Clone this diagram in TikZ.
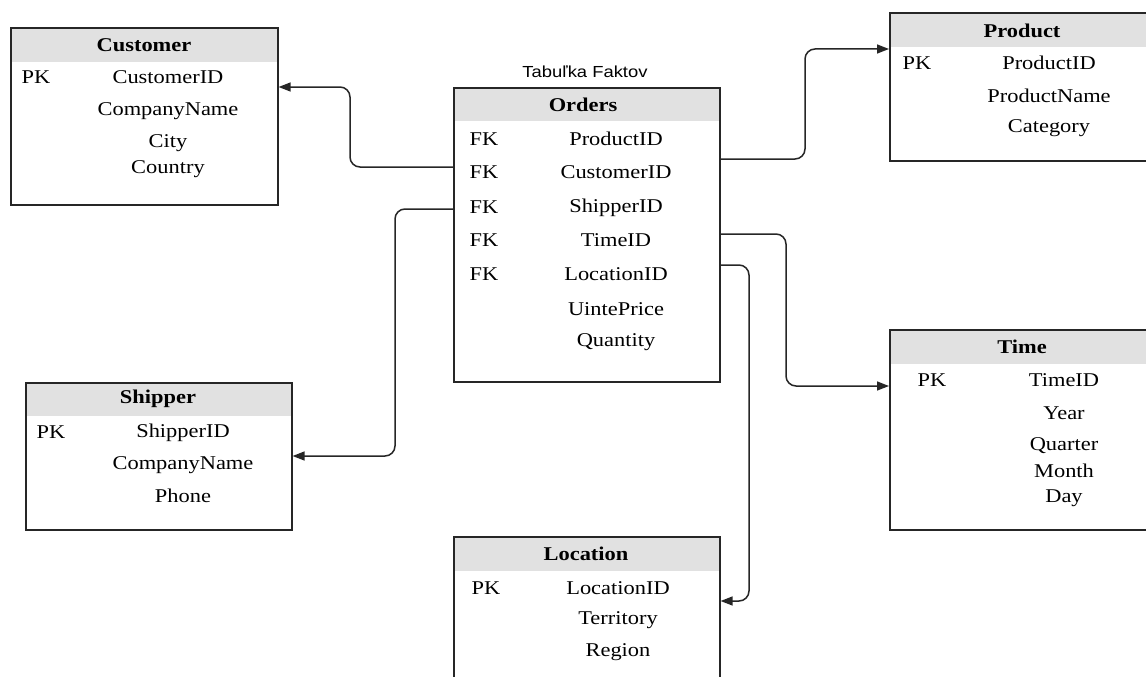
\documentclass[tikz,border=0pt]{standalone}
\usepackage{fontspec}
\setmainfont[FakeStretch=1.15]{Liberation Serif}
\newfontfamily\captionfont[FakeStretch=1.15]{Liberation Sans}
\usetikzlibrary{arrows.meta}

\definecolor{hdrfill}{HTML}{E1E1E1}
\definecolor{rule}{HTML}{262626}

\tikzset{
  table/.style={draw=rule, line width=1.6pt, anchor=north west, inner sep=0pt,
    path picture={\fill[hdrfill] (path picture bounding box.north west)
      rectangle ([yshift=-#1]path picture bounding box.north east);}},
  table/.default=33pt,
  title/.style={font=\fontsize{19.5}{22}\selectfont\bfseries, inner sep=0pt, anchor=center},
  field/.style={font=\fontsize{19.5}{22}\selectfont, inner sep=0pt, anchor=center},
  link/.style={draw=rule, line width=1.5pt, rounded corners=10pt,
    -{Triangle[length=12pt,width=9pt]}}
}

\begin{document}
\begin{tikzpicture}[x=1pt,y=-1pt]
\useasboundingbox (0,0) rectangle (1146,677);

% ---- Customer ----
\node[table=34pt, minimum width=267pt, minimum height=177pt] (customer) at (10,27) {};
\node[title] (customer-t) at (144,45) {Customer};
\node[field] (customer-pk) at (36,77) {PK};
\node[field] (customer-id) at (168,77) {CustomerID};
\node[field] (customer-name) at (168,111) {CompanyName};
\node[field] (customer-city) at (168,143) {City};
\node[field] (customer-country) at (168,169) {Country};

% ---- Orders (fact table) ----
\node[font=\captionfont\fontsize{16}{19}\selectfont, inner sep=0pt] (orders-cap) at (585,72) {Tabuľka Faktov};
\node[table=33pt, minimum width=266pt, minimum height=294pt] (orders) at (453,87) {};
\node[title] (orders-t) at (583,105) {Orders};
\node[field] (orders-fk1) at (484,139) {FK};
\node[field] (orders-fk2) at (484,172) {FK};
\node[field] (orders-fk3) at (484,207) {FK};
\node[field] (orders-fk4) at (484,240) {FK};
\node[field] (orders-fk5) at (484,274) {FK};
\node[field] (orders-prod) at (616,139) {ProductID};
\node[field] (orders-cust) at (616,172) {CustomerID};
\node[field] (orders-ship) at (616,208) {ShipperID};
\node[field] (orders-time) at (616,240) {TimeID};
\node[field] (orders-loc) at (616,274) {LocationID};
\node[field] (orders-price) at (616,309) {UintePrice};
\node[field] (orders-qty) at (616,342) {Quantity};

% ---- Product ----
\node[table=34pt, minimum width=270pt, minimum height=148pt] (product) at (889,12) {};
\node[title] (product-t) at (1022,31) {Product};
\node[field] (product-pk) at (917,63) {PK};
\node[field] (product-id) at (1049,63) {ProductID};
\node[field] (product-name) at (1049,96) {ProductName};
\node[field] (product-cat) at (1049,128) {Category};

% ---- Time ----
\node[table=34pt, minimum width=270pt, minimum height=200pt] (time) at (889,329) {};
\node[title] (time-t) at (1022,347) {Time};
\node[field] (time-pk) at (932,380) {PK};
\node[field] (time-id) at (1064,380) {TimeID};
\node[field] (time-year) at (1064,413) {Year};
\node[field] (time-quarter) at (1064,446) {Quarter};
\node[field] (time-month) at (1064,471) {Month};
\node[field] (time-day) at (1064,498) {Day};

% ---- Shipper ----
\node[table=33pt, minimum width=266pt, minimum height=147pt] (shipper) at (25,382) {};
\node[title] (shipper-t) at (158,399) {Shipper};
\node[field] (shipper-pk) at (51,432) {PK};
\node[field] (shipper-id) at (183,433) {ShipperID};
\node[field] (shipper-name) at (183,465) {CompanyName};
\node[field] (shipper-phone) at (183,496) {Phone};

% ---- Location ----
\node[table=34pt, minimum width=266pt, minimum height=160pt] (location) at (453,536) {};
\node[title] (location-t) at (586,554) {Location};
\node[field] (location-pk) at (486,588) {PK};
\node[field] (location-id) at (618,588) {LocationID};
\node[field] (location-terr) at (618,620) {Territory};
\node[field] (location-reg) at (618,652) {Region};

% ---- Relationships ----
\draw[link] (orders.west |- 0,167) -- (350,167) -- (350,87) -- (customer.east |- 0,87);
\draw[link] (orders.west |- 0,209) -- (395,209) -- (395,456) -- (shipper.east |- 0,456);
\draw[link] (orders.east |- 0,159) -- (805,159) -- (805,49) -- (product.west |- 0,49);
\draw[link] (orders.east |- 0,234) -- (786,234) -- (786,386) -- (time.west |- 0,386);
\draw[link] (orders.east |- 0,265) -- (749,265) -- (749,601) -- (location.east |- 0,601);
\end{tikzpicture}
\end{document}
